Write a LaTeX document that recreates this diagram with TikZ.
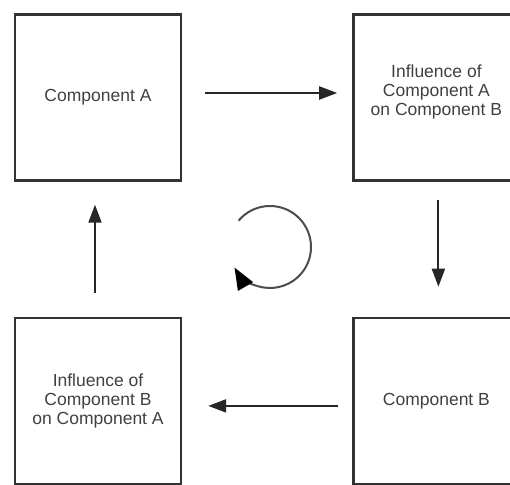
\documentclass[tikz,border=0pt]{standalone}
\usepackage{fontspec}
\setmainfont{Liberation Sans}
\usetikzlibrary{positioning,arrows.meta}

\begin{document}
\begin{tikzpicture}[x=1pt, y=1pt, >={Triangle[length=18pt,width=13pt]},
  box/.style={draw=black!80, line width=2.4pt, minimum size=166pt, inner sep=0pt, align=center, text=black!75, font=\fontsize{17.5}{19}\selectfont},
  flow/.style={->, line width=2pt, draw=black!85}]
\useasboundingbox (0,0) rectangle (510,484);
\node [box] (compa) at (98,386.5) {Component A};
\node [box, right=170pt of compa] (infab) {Influence of \\ Component A \\ on Component B\\[-4pt]};
\node [box, below=135pt of compa] (infba) {Influence of \\ Component B \\ on Component A};
\node [box, right=170pt of infba] (compb) {Component B};
\coordinate (loop) at (270,237);
% around the loop
\draw[flow, shorten <=23pt, shorten >=15pt] ([yshift=4.5pt]compa.east) -- ([yshift=4.5pt]compa.east -| infab.west);
\draw[flow, shorten <=18pt, shorten >=30pt] ([xshift=2pt]infab.south) -- ([xshift=2pt]infab.south |- compb.north);
\draw[flow, shorten <=14pt, shorten >=26pt] ([yshift=-5pt]compb.west) -- ([yshift=-5pt]compb.west -| infba.east);
\draw[flow, shorten <=24pt, shorten >=23pt] ([xshift=-3pt]infba.north) -- ([xshift=-3pt]infba.north |- compa.south);
% cycle sign in the middle
\draw[flow, draw=black!70, -{Triangle[length=22pt,width=17pt,color=black]}] (loop) ++(140:41) arc[start angle=140, end angle=-150, radius=41];
\end{tikzpicture}
\end{document}
